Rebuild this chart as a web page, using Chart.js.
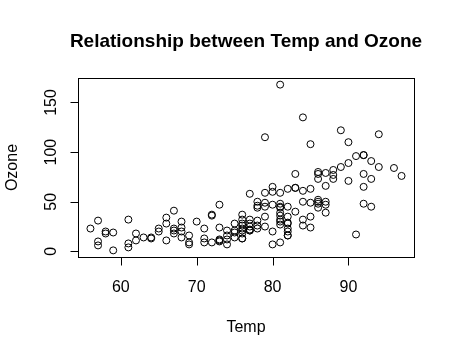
<!DOCTYPE html>
<html><head><meta charset="utf-8">
<script src="https://cdn.jsdelivr.net/npm/chart.js@4/dist/chart.umd.min.js"></script>
<style>html,body{margin:0;padding:0;background:#fff}#wrap{width:454px;height:355px}</style>
</head><body><div id="wrap"><canvas id="c" width="454" height="355"></canvas></div>
<script>
// observed (Temp, Ozone) pairs
const temp  = [67,72,74,62,66,65,59,61,74,69,66,68,58,64,66,57,68,62,59,73,61,61,67,81,79,76,82,90,87,82,77,72,65,73,76,84,85,81,83,83,88,92,92,89,73,81,80,81,82,84,87,85,74,86,85,82,86,88,86,83,81,81,81,82,86,85,87,89,90,90,86,82,80,77,79,76,78,78,77,72,79,81,86,97,94,96,94,91,92,93,93,87,84,80,78,75,73,81,76,77,71,71,78,67,76,68,82,64,71,81,69,63,70,75,76,68];
const ozone = [41,36,12,18,28,23,19,8,7,16,11,14,18,14,34,6,30,11,1,11,4,32,23,45,115,37,29,71,39,23,21,37,20,12,13,135,49,32,64,40,77,97,97,85,10,27,7,48,35,61,79,63,16,80,108,20,52,82,50,64,59,39,9,16,78,35,66,122,89,110,44,28,65,22,59,23,31,44,21,9,45,168,73,76,118,84,85,96,78,73,91,47,32,20,23,21,24,44,21,28,9,13,46,18,13,24,16,13,23,36,7,14,30,14,18,20];
// filled-in (previously missing) points
const tempFilled  = [56,57,57,58,69,67,73,74,75,75,76,76,76,77,77,77,78,78,79,79,79,80,80,81,82,82,83,84,84,85,86,87,88,91,92,92,93];
const ozoneFilled = [23,31,10,20,9,21,47,21,28,19,32,28,26,58,32,25,50,26,49,25,35,60,47,30,63,45,78,50,26,24,48,50,73,17,65,48,45];
const xTicks = [60,70,80,90];
const yTicks = [0,50,100,150];
const titleText = "Relationship between Temp and Ozone";
const xTitle = "Temp";
const yTitle = "Ozone";

const allT = temp.concat(tempFilled), allO = ozone.concat(ozoneFilled);
const pts = allT.map((t,i)=>({x:t,y:allO[i]}));
const xmin = Math.min(...allT), xmax = Math.max(...allT);
const ymin = Math.min(...allO), ymax = Math.max(...allO);
const xr = xmax-xmin, yr = ymax-ymin;
const FONT = '"Liberation Sans", Arial, Helvetica, sans-serif';

const rBase = {
  id:'rbase',
  afterDraw(chart){
    const ctx = chart.ctx, a = chart.chartArea;
    const xs = chart.scales.x, ys = chart.scales.y;
    ctx.save();
    ctx.strokeStyle = '#000'; ctx.lineWidth = 1; ctx.fillStyle = '#000';
    ctx.strokeRect(Math.round(a.left)+0.5, Math.round(a.top)+0.5, Math.round(a.right-a.left), Math.round(a.bottom-a.top));
    const yb = Math.round(a.bottom)+0.5;
    ctx.beginPath();
    const x0 = xs.getPixelForValue(xTicks[0]), x1 = xs.getPixelForValue(xTicks[xTicks.length-1]);
    ctx.moveTo(Math.round(x0)+0.5, yb); ctx.lineTo(Math.round(x1)+0.5, yb);
    xTicks.forEach(v=>{const p=Math.round(xs.getPixelForValue(v))+0.5; ctx.moveTo(p,yb); ctx.lineTo(p,yb+8);});
    ctx.stroke();
    ctx.font = '16px '+FONT; ctx.textAlign='center'; ctx.textBaseline='alphabetic';
    xTicks.forEach(v=>ctx.fillText(String(v), xs.getPixelForValue(v), 292));
    const xl = Math.round(a.left)+0.5;
    ctx.beginPath();
    const y0 = ys.getPixelForValue(yTicks[0]), y1 = ys.getPixelForValue(yTicks[yTicks.length-1]);
    ctx.moveTo(xl, Math.round(y0)+0.5); ctx.lineTo(xl, Math.round(y1)+0.5);
    yTicks.forEach(v=>{const p=Math.round(ys.getPixelForValue(v))+0.5; ctx.moveTo(xl,p); ctx.lineTo(xl-8,p);});
    ctx.stroke();
    yTicks.forEach(v=>{
      ctx.save(); ctx.translate(56, ys.getPixelForValue(v)); ctx.rotate(-Math.PI/2);
      ctx.fillText(String(v), 0, 0); ctx.restore();
    });
    ctx.fillText(xTitle, (a.left+a.right)/2, 332);
    ctx.save(); ctx.translate(17, (a.top+a.bottom)/2); ctx.rotate(-Math.PI/2);
    ctx.fillText(yTitle, 0, 0); ctx.restore();
    ctx.font = 'bold 19px '+FONT;
    ctx.fillText(titleText, (a.left+a.right)/2, 47);
    ctx.restore();
  }
};

new Chart(document.getElementById('c'), {
  type:'scatter',
  data:{datasets:[{data:pts, pointStyle:'circle', pointRadius:3.5, pointHoverRadius:3.5, borderColor:'#000', borderWidth:1, backgroundColor:'rgba(0,0,0,0)'}]},
  options:{
    responsive:false, animation:false, devicePixelRatio:1,
    layout:{padding:{left:78,right:40,top:78,bottom:98}},
    plugins:{legend:{display:false}, tooltip:{enabled:false}, title:{display:false}},
    scales:{
      x:{type:'linear', display:false, min:xmin-0.04*xr, max:xmax+0.04*xr},
      y:{type:'linear', display:false, min:ymin-0.04*yr, max:ymax+0.04*yr}
    }
  },
  plugins:[rBase]
});
</script></body></html>
